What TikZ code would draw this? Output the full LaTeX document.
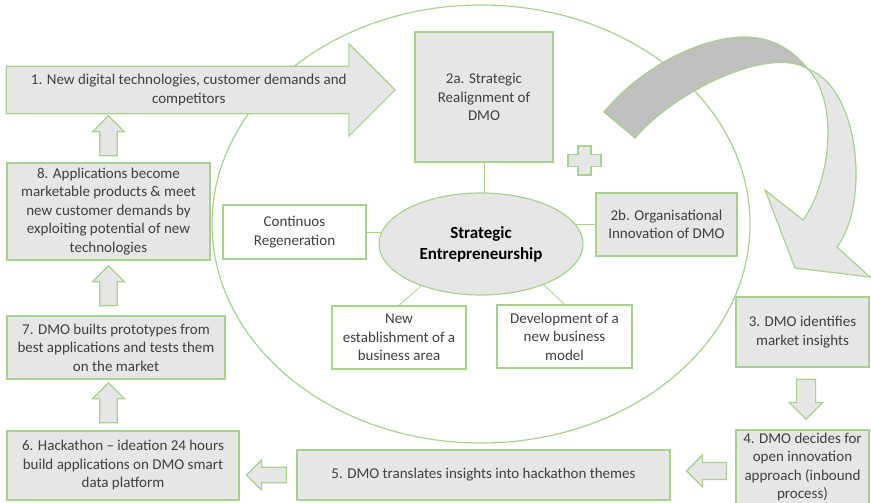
\documentclass[tikz,border=0pt]{standalone}
\usepackage{fontspec}
\setmainfont{Carlito}
\usepackage{xcolor}
\usepackage{tikz}
\usetikzlibrary{shapes.geometric, shapes.arrows, positioning, calc, backgrounds}
\definecolor{leaf}{RGB}{169,209,142}
\definecolor{paper}{RGB}{231,230,230}
\definecolor{shade}{RGB}{191,191,191}
\definecolor{ink}{RGB}{64,64,64}
\tikzstyle{phase} = [rectangle, draw=leaf, line width=1.2pt, fill=paper, text=ink, align=center, inner sep=2pt]
\tikzstyle{aspect} = [rectangle, draw=leaf, line width=1.2pt, fill=white, text=ink, align=center, inner sep=2pt]
\tikzstyle{core} = [ellipse, draw=leaf, line width=1.2pt, fill=paper, align=center, font=\fontsize{17}{21}\selectfont\bfseries]
\tikzstyle{bigarrow} = [single arrow, draw=leaf, line width=1.2pt, fill=paper, text=ink, align=center, single arrow head extend=22.5pt, minimum height=389pt, inner xsep=4pt, inner ysep=7.5pt]
\tikzstyle{blockarrow} = [single arrow, draw=leaf, line width=1.2pt, fill=paper, minimum width=32pt, minimum height=40pt, inner sep=8pt]
\tikzstyle{link} = [draw=leaf, line width=0.8pt]
\tikzstyle{band} = [draw=leaf, line width=1.2pt]

\begin{document}
\begin{tikzpicture}[x=1pt, y=1pt, font=\fontsize{15}{18.5}\selectfont]
\useasboundingbox (0,0) rectangle (871,503);

\node (outer) [ellipse, draw=leaf, line width=1.2pt, minimum width=538pt, minimum height=438pt] at (481,279) {};

\node (core) [core, minimum width=204pt, minimum height=102pt] at (481,259) {Strategic\\Entrepreneurship};
\node (realign) [phase, minimum width=138pt, minimum height=130pt] at (484,406) {2a. Strategic\\Realignment of\\DMO};
\node (orginno) [phase, minimum width=141pt, minimum height=63pt] at (666.5,278.5) {2b. Organisational\\Innovation of DMO};
\node (regen) [aspect, minimum width=143pt, minimum height=54pt] at (294.5,271) {Continuos\\Regeneration};
\node (newarea) [aspect, minimum width=134pt, minimum height=63pt] at (399,165.5) {New\\establishment of a\\business area};
\node (newmodel) [aspect, minimum width=135pt, minimum height=63pt] at (564.5,166.5) {Development of a\\new business\\model};

\node (trigger) [bigarrow, anchor=tip] at (396,413) {1. New digital technologies, customer demands and\\competitors};
\node (market) [phase, minimum width=203pt, minimum height=97pt] at (108.5,291.5) {8. Applications become\\marketable products \& meet\\new customer demands by\\exploiting potential of new\\technologies};
\node (proto) [phase, minimum width=218pt, minimum height=63pt] at (116,155.5) {7. DMO builts prototypes from\\best applications and tests them\\on the market};
\node (hack) [phase, minimum width=232pt, minimum height=69pt] at (123,37.5) {6. Hackathon – ideation 24 hours\\build applications on DMO smart\\data platform};
\node (themes) [phase, minimum width=373pt, minimum height=50pt] at (483.5,28) {5. DMO translates insights into hackathon themes};
\node (openinno) [phase, minimum width=133pt, minimum height=74pt] at (802.5,36) {4. DMO decides for\\open innovation\\approach (inbound\\process)};
\node (insights) [phase, minimum width=133pt, minimum height=70pt] at (802.5,171) {3. DMO identifies\\market insights};

\node (up1) [blockarrow, shape border rotate=90, anchor=tail] at ([yshift=6pt]market.north) {};
\node (up2) [blockarrow, shape border rotate=90, anchor=tail] at ($(proto.north -| market.north)+(0,9)$) {};
\node (up3) [blockarrow, shape border rotate=90, anchor=tail] at ($(hack.north -| market.north)+(0,7)$) {};
\node (left1) [blockarrow, shape border rotate=180, anchor=tip, minimum width=30pt, inner sep=7pt] at ($(hack.east |- themes.west)+(6,0)$) {};
\node (left2) [blockarrow, shape border rotate=180, anchor=tip, inner sep=7.5pt] at ($(themes.east)+(15,4)$) {};
\node (down1) [blockarrow, shape border rotate=270, anchor=tail, inner sep=9pt] at ($(insights.south)+(3.5,-11)$) {};

\begin{scope}[on background layer]
\draw [link] (realign.south) -- (realign.south |- core.center);
\draw [link] (regen.east) -- (regen.east -| core.center);
\draw [link] (orginno.west) -- (orginno.west -| core.center);
\draw [link] (core.215) -- (newarea.north);
\draw [link] (core.327) -- (newmodel.north);
\end{scope}

% plus between 2a and 2b
\draw [band, fill=paper, shift={(584.5,342.5)}] (-6.5,14.5) -- (6.5,14.5) -- (6.5,6) -- (16.5,6) -- (16.5,-6) -- (6.5,-6) -- (6.5,-14.5) -- (-6.5,-14.5) -- (-6.5,-6) -- (-16.5,-6) -- (-16.5,6) -- (-6.5,6) -- cycle;

% turning arrow
\draw [band, fill=shade] (604,391) .. controls (640,435) and (700,466) .. (745,466)
  .. controls (775,466) and (795,450) .. (808,434)
  .. controls (770,458) and (675,412) .. (635,365) -- cycle;
\draw [band, fill=paper] (808,434) .. controls (860,415) and (870,300) .. (837,256)
  -- (870,226) -- (795,235) -- (765,313) -- (803,283)
  .. controls (830,320) and (840,400) .. (808,434) -- cycle;

\end{tikzpicture}
\end{document}
